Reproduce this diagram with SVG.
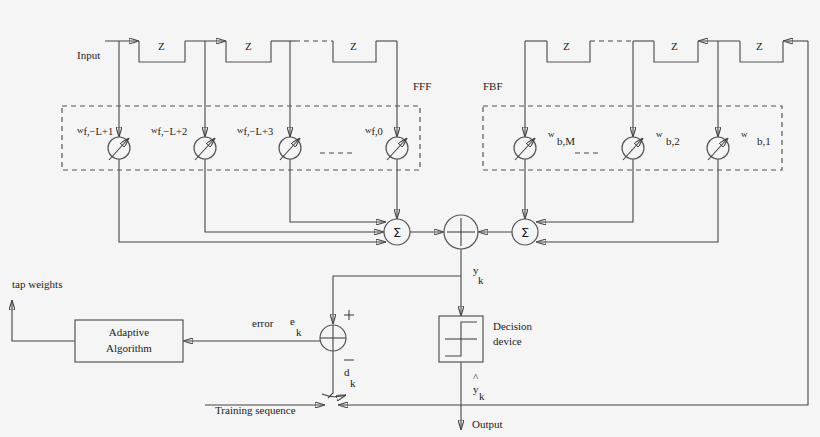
<svg xmlns="http://www.w3.org/2000/svg" width="820" height="437" viewBox="0 0 820 437">
<defs>
<marker id="a" viewBox="0 0 10 6" refX="10" refY="3" markerWidth="10" markerHeight="6" markerUnits="userSpaceOnUse" orient="auto"><path d="M0,0L10,3L0,6z" fill="#111"/></marker>
<g id="wt"><circle r="11" fill="none" stroke="#555" stroke-width="1.2"/><line x1="-10" y1="12" x2="10" y2="-10" stroke="#333" stroke-width="1" marker-end="url(#a)"/></g>
</defs>
<style>
text{font-family:"Liberation Serif",serif;font-size:11px;fill:#222}
.s{font-size:9px}
.sub{font-size:10.5px}
line,path,polyline{stroke:#444;stroke-width:1.1;fill:none}
.d{stroke-dasharray:5,4}
.b{stroke:#555;fill:none;stroke-width:1.2}
.sg{font-family:"DejaVu Sans",sans-serif;font-size:13px}
</style>
<rect width="820" height="437" fill="#f5f5f5"/>
<g id="connectors">
<line x1="105" y1="41" x2="139" y2="41" marker-end="url(#a)"/>
<line x1="185" y1="41" x2="226" y2="41" marker-end="url(#a)"/>
<line x1="271" y1="41" x2="295" y2="41"/>
<line x1="295" y1="41" x2="333" y2="41" class="d"/>
<line x1="376" y1="41" x2="397" y2="41"/>
<line x1="119" y1="41" x2="119" y2="137" marker-end="url(#a)"/>
<line x1="205" y1="41" x2="205" y2="137" marker-end="url(#a)"/>
<line x1="290" y1="41" x2="290" y2="137" marker-end="url(#a)"/>
<line x1="397" y1="41" x2="397" y2="137" marker-end="url(#a)"/>
<line x1="525" y1="41" x2="547" y2="41"/>
<line x1="590" y1="41" x2="633" y2="41" class="d"/>
<line x1="633" y1="41" x2="654" y2="41"/>
<line x1="740" y1="41" x2="698" y2="41" marker-end="url(#a)"/>
<line x1="808" y1="41" x2="783" y2="41" marker-end="url(#a)"/>
<line x1="525" y1="41" x2="525" y2="137" marker-end="url(#a)"/>
<line x1="633" y1="41" x2="633" y2="137" marker-end="url(#a)"/>
<line x1="718" y1="41" x2="718" y2="137" marker-end="url(#a)"/>
<line x1="320" y1="153" x2="356" y2="153" class="d"/>
<line x1="575" y1="153" x2="600" y2="153" class="d"/>
<line x1="397" y1="159" x2="397" y2="219" marker-end="url(#a)"/>
<polyline points="290,159 290,222 386,222" marker-end="url(#a)"/>
<polyline points="205,159 205,232 384,232" marker-end="url(#a)"/>
<polyline points="119,159 119,242 386,242" marker-end="url(#a)"/>
<line x1="525" y1="159" x2="525" y2="219" marker-end="url(#a)"/>
<polyline points="633,159 633,222 536,222" marker-end="url(#a)"/>
<polyline points="718,159 718,242 536,242" marker-end="url(#a)"/>
<line x1="410" y1="232" x2="444" y2="232" marker-end="url(#a)"/>
<line x1="512" y1="232" x2="478" y2="232" marker-end="url(#a)"/>
<line x1="461" y1="249" x2="461" y2="316" marker-end="url(#a)"/>
<polyline points="461,276 333,276 333,324" marker-end="url(#a)"/>
<line x1="461" y1="362" x2="461" y2="430" marker-end="url(#a)"/>
<line x1="320" y1="341" x2="183" y2="341" marker-end="url(#a)"/>
<polyline points="75,341 12,341 12,300" marker-end="url(#a)"/>
<polyline points="333,351 333,393 328,398"/>
<line x1="205" y1="405" x2="325" y2="405" marker-end="url(#a)"/>
<polyline points="808,41 808,405 338,405" marker-end="url(#a)"/>
<path d="M322,394 Q334,399 346,395" marker-end="url(#a)"/>
</g>
<g id="delays">
<polyline class="b" points="139,41 139,62 185,62 185,41"/>
<polyline class="b" points="226,41 226,62 271,62 271,41"/>
<polyline class="b" points="333,41 333,62 376,62 376,41"/>
<polyline class="b" points="547,41 547,62 590,62 590,41"/>
<polyline class="b" points="654,41 654,62 698,62 698,41"/>
<polyline class="b" points="740,41 740,62 783,62 783,41"/>
<text x="158" y="50">Z</text><text x="245" y="50">Z</text><text x="350" y="50">Z</text>
<text x="563" y="50">Z</text><text x="671" y="50">Z</text><text x="756" y="50">Z</text>
</g>
<g id="fff">
<rect x="62" y="106" width="358" height="64" class="b d"/>
<text x="413" y="90">FFF</text>
<use href="#wt" x="119" y="148"/><use href="#wt" x="205" y="148"/><use href="#wt" x="290" y="148"/><use href="#wt" x="397" y="148"/>
<text x="77" y="133"><tspan class="s">w</tspan><tspan dy="2" class="sub">f,−L+1</tspan></text>
<text x="151" y="133"><tspan class="s">w</tspan><tspan dy="2" class="sub">f,−L+2</tspan></text>
<text x="237" y="133"><tspan class="s">w</tspan><tspan dy="2" class="sub">f,−L+3</tspan></text>
<text x="365" y="133"><tspan class="s">w</tspan><tspan dy="2" class="sub">f,0</tspan></text>
</g>
<g id="fbf">
<rect x="483" y="106" width="299" height="64" class="b d"/>
<text x="483" y="90">FBF</text>
<use href="#wt" x="525" y="148"/><use href="#wt" x="633" y="148"/><use href="#wt" x="718" y="148"/>
<text x="548" y="137" class="s">w</text><text x="557" y="145">b,M</text>
<text x="656" y="137" class="s">w</text><text x="666" y="145">b,2</text>
<text x="741" y="137" class="s">w</text><text x="757" y="145">b,1</text>
</g>
<g id="sums">
<circle cx="397" cy="232" r="13" class="b"/><text x="397" y="237" class="sg" text-anchor="middle">Σ</text>
<circle cx="525" cy="232" r="13" class="b"/><text x="525" y="237" class="sg" text-anchor="middle">Σ</text>
<circle cx="461" cy="232" r="17" class="b"/>
<line x1="447" y1="232" x2="475" y2="232"/><line x1="461" y1="218" x2="461" y2="246"/>
<text x="473" y="274">y</text><text x="478" y="284">k</text>
</g>
<g id="decision">
<rect x="439" y="316" width="44" height="46" class="b"/>
<polyline points="445,356 461,356 461,322 477,322"/><line x1="445" y1="339" x2="477" y2="339"/>
<text x="493" y="330">Decision</text><text x="493" y="345">device</text>
<text x="473" y="381">^</text><text x="473" y="393">y</text><text x="479" y="400">k</text>
<text x="472" y="428">Output</text>
</g>
<g id="error">
<circle cx="333" cy="338" r="13" class="b"/>
<line x1="320" y1="338" x2="346" y2="338"/><line x1="333" y1="325" x2="333" y2="351"/>
<text x="252" y="327">error</text><text x="290" y="325">e</text><text x="296" y="336">k</text>
<line x1="344" y1="315" x2="354" y2="315"/><line x1="349" y1="310" x2="349" y2="320"/>
<line x1="344" y1="360" x2="354" y2="360"/>
<text x="344" y="376">d</text><text x="350" y="387">k</text>
<text x="215" y="414">Training sequence</text>
</g>
<g id="adaptive">
<rect x="75" y="320" width="108" height="42" class="b"/>
<text x="129" y="336" text-anchor="middle">Adaptive</text><text x="129" y="352" text-anchor="middle">Algorithm</text>
<text x="12" y="288">tap weights</text>
</g>
<text x="77" y="59">Input</text>
</svg>
